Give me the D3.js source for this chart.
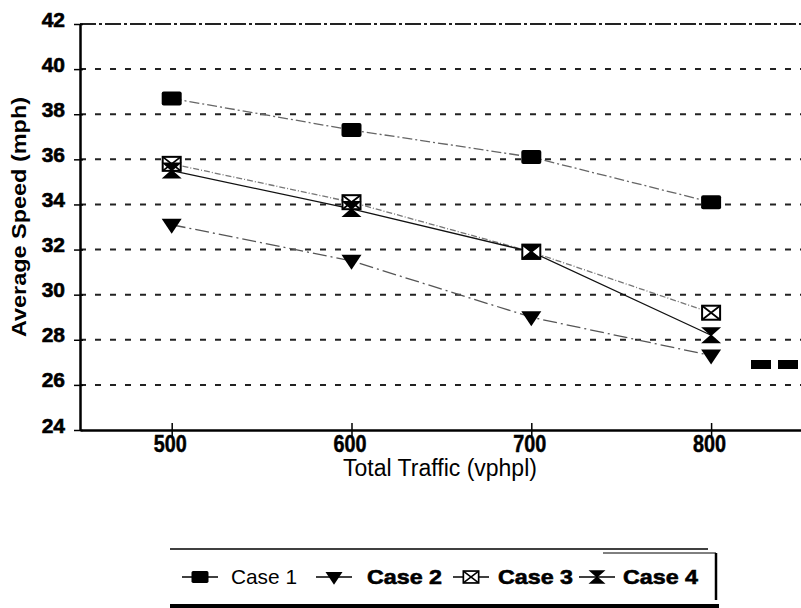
<!DOCTYPE html>
<html>
<head>
<meta charset="utf-8">
<script src="https://cdn.jsdelivr.net/npm/d3@7"></script>
<style>
  body { margin: 0; background: #fff; }
  svg { display: block; font-family: 'Liberation Sans', Arial, sans-serif; }
</style>
</head>
<body>
<svg id="chart"></svg>
<script>
const width = 801
const height = 608

// data
const traffic = [500, 600, 700, 800]
const case1 = [38.7, 37.3, 36.1, 34.1]
const case2 = [33.1, 31.5, 29.0, 27.3]
const case3 = [35.8, 34.1, 31.9, 29.2]
const case4 = [35.5, 33.8, 31.9, 28.2]
const yTicks = [24, 26, 28, 30, 32, 34, 36, 38, 40, 42]
const seriesNames = ['Case 1', 'Case 2', 'Case 3', 'Case 4']

const svg = d3.select('#chart').attr('width', width).attr('height', height)

const x = d3.scaleLinear().domain([449, 850]).range([80, 801])
const y = d3.scaleLinear().domain([24, 42]).range([430, 24])

// grid lines
svg.append('g')
  .selectAll('line')
  .data(yTicks.filter(d => d > 24 && d < 42))
  .join('line')
  .attr('x1', 80).attr('x2', 801)
  .attr('y1', d => y(d)).attr('y2', d => y(d))
  .attr('stroke', '#222')
  .attr('stroke-width', 2)
  .attr('stroke-dasharray', '6,9')

// top line
svg.append('line')
  .attr('x1', 80).attr('x2', 801)
  .attr('y1', y(42)).attr('y2', y(42))
  .attr('stroke', '#222')
  .attr('stroke-width', 2)
  .attr('stroke-dasharray', '16,3,3,3')

// axes
const yAxis = svg.append('g')
  .attr('transform', 'translate(80,0)')
  .call(d3.axisLeft(y).tickValues(yTicks).tickSize(5).tickSizeOuter(0))
yAxis.select('.domain').attr('stroke', '#000').attr('stroke-width', 2.5)
yAxis.selectAll('.tick line').attr('stroke', '#000').attr('stroke-width', 1.5).attr('x2', 3).attr('x1', -6)
yAxis.selectAll('.tick text')
  .attr('x', -15)
  .attr('dy', '0.1em')
  .attr('font-size', 21)
  .attr('font-weight', 'bold')
  .attr('font-family', 'Liberation Sans, Arial, sans-serif')
  .attr('fill', '#000')
  .attr('stroke', '#000')
  .attr('stroke-width', 0.6)

const xAxis = svg.append('g')
  .attr('transform', 'translate(0,430)')
  .call(d3.axisBottom(x).tickValues(traffic).tickSize(6).tickSizeOuter(0))
xAxis.select('.domain').attr('stroke', '#000').attr('stroke-width', 2.5)
xAxis.selectAll('.tick line').attr('stroke', '#000').attr('stroke-width', 1.5).attr('y1', -7).attr('y2', 6)
xAxis.selectAll('.tick text')
  .attr('y', 0)
  .attr('dy', 0)
  .attr('transform', 'translate(-2,22) scale(0.86,1)')
  .attr('font-size', 23)
  .attr('font-weight', 'bold')
  .attr('font-family', 'Liberation Sans, Arial, sans-serif')
  .attr('fill', '#000')
  .attr('stroke', '#000')
  .attr('stroke-width', 0.5)

// axis titles
svg.append('text')
  .attr('transform', 'translate(26,217) rotate(-90)')
  .attr('text-anchor', 'middle')
  .attr('font-size', 21)
  .attr('font-weight', 'bold')
  .attr('textLength', 240)
  .attr('lengthAdjust', 'spacingAndGlyphs')
  .text('Average Speed (mph)')

svg.append('text')
  .attr('x', 440)
  .attr('y', 476)
  .attr('text-anchor', 'middle')
  .attr('font-size', 23)
  .text('Total Traffic (vphpl)')

// series lines
const series = [case1, case2, case3, case4].map((vals, i) => ({
  name: seriesNames[i],
  points: vals.map((v, j) => ({ t: traffic[j], v: v })),
}))
const lineStyles = [
  { stroke: '#666', dash: '10,3,2,3' },
  { stroke: '#555', dash: '14,4,2,4' },
  { stroke: '#777', dash: '6,2,1,2' },
  { stroke: '#111', dash: null },
]

const line = d3.line().x(d => x(d.t)).y(d => y(d.v))

svg.append('g')
  .selectAll('path')
  .data(series)
  .join('path')
  .attr('d', d => line(d.points))
  .attr('fill', 'none')
  .attr('stroke', (d, i) => lineStyles[i].stroke)
  .attr('stroke-width', 1.3)
  .attr('stroke-dasharray', (d, i) => lineStyles[i].dash)

// marker shapes, centred on 0,0
function drawMarker(g, kind) {
  if (kind === 0) {
    g.append('rect').attr('x', -10).attr('y', -7).attr('width', 20).attr('height', 14)
      .attr('rx', 2).attr('fill', '#000')
  } else if (kind === 1) {
    g.append('path').attr('d', 'M-10,-6 L10,-6 L0,9 Z').attr('fill', '#000')
  } else if (kind === 2) {
    g.append('rect').attr('x', -9).attr('y', -7).attr('width', 18).attr('height', 14)
      .attr('fill', '#fff').attr('stroke', '#000').attr('stroke-width', 2)
    g.append('path').attr('d', 'M-9,-7 L9,7 M-9,7 L9,-7').attr('stroke', '#000').attr('stroke-width', 1.8)
  } else {
    g.append('path').attr('d', 'M-10,-8 L10,-8 L1,0 L10,8 L-10,8 L-1,0 Z').attr('fill', '#000')
  }
}

series.forEach(function (s, i) {
  svg.append('g')
    .selectAll('g')
    .data(s.points)
    .join('g')
    .attr('transform', d => 'translate(' + x(d.t) + ',' + y(d.v) + ')')
    .each(function () { drawMarker(d3.select(this), i) })
})

// stray marks at right edge of the plot
svg.append('rect').attr('x', 751).attr('y', 360).attr('width', 20).attr('height', 9).attr('fill', '#000')
svg.append('rect').attr('x', 778).attr('y', 360).attr('width', 20).attr('height', 9).attr('fill', '#000')

// legend
const legend = svg.append('g')
legend.append('line').attr('x1', 170).attr('x2', 708).attr('y1', 549).attr('y2', 549)
  .attr('stroke', '#000').attr('stroke-width', 1.5)
legend.append('line').attr('x1', 603).attr('x2', 716).attr('y1', 553).attr('y2', 553)
  .attr('stroke', '#000').attr('stroke-width', 1)
legend.append('line').attr('x1', 716).attr('x2', 716).attr('y1', 553).attr('y2', 600)
  .attr('stroke', '#000').attr('stroke-width', 2.5)
legend.append('line').attr('x1', 170).attr('x2', 719).attr('y1', 606).attr('y2', 606)
  .attr('stroke', '#000').attr('stroke-width', 4)

const legendX = [200, 334, 471, 597]
const legendTextX = [231, 367, 498, 623]
seriesNames.forEach(function (name, i) {
  const g = legend.append('g').attr('transform', 'translate(' + legendX[i] + ',577)')
  g.append('line').attr('x1', -18).attr('x2', 18).attr('y1', 0).attr('y2', 0)
    .attr('stroke', '#000').attr('stroke-width', 1.3)
  const m = g.append('g').attr('transform', 'scale(0.85)')
  drawMarker(m, i)
  legend.append('text')
    .attr('x', legendTextX[i])
    .attr('y', 584)
    .attr('font-size', 21)
    .attr('font-weight', i === 0 ? 'normal' : 'bold')
    .attr('stroke', i === 0 ? 'none' : '#000')
    .attr('stroke-width', 0.6)
    .attr('textLength', i === 0 ? 66 : 75)
    .attr('lengthAdjust', 'spacingAndGlyphs')
    .text(name)
})
</script>
</body>
</html>
